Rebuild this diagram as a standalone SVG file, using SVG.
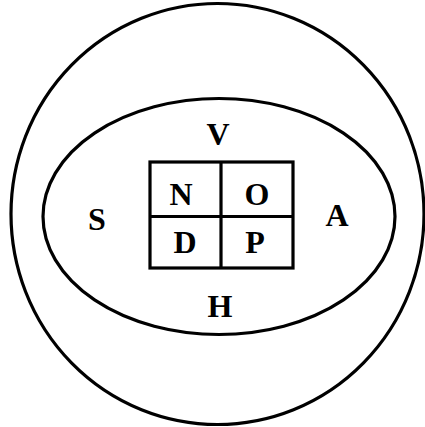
<svg xmlns="http://www.w3.org/2000/svg" width="425" height="427" viewBox="0 0 425 427">
<style>
.ln{fill:none;stroke:#000;stroke-width:3.2}
.t{font-family:"Liberation Serif","Times New Roman",serif;font-weight:bold;font-size:32px;text-anchor:middle;fill:#000}
</style>
<rect width="425" height="427" fill="#fff"/>
<g id="outer"><ellipse class="ln" cx="217.5" cy="214" rx="206.5" ry="210.5"/></g>
<g id="inner"><ellipse class="ln" cx="219" cy="216.5" rx="176" ry="118"/></g>
<g id="grid">
<rect class="ln" x="150" y="162" width="143" height="106" stroke-width="3.6"/>
<line class="ln" x1="221" y1="162" x2="221" y2="268"/>
<line class="ln" x1="150" y1="216.5" x2="293" y2="216.5"/>
</g>
<g id="labels">
<text class="t" x="218" y="145">V</text>
<text class="t" x="97" y="230">S</text>
<text class="t" x="337" y="226">A</text>
<text class="t" x="220" y="317">H</text>
<text class="t" x="181" y="205">N</text>
<text class="t" x="257" y="205">O</text>
<text class="t" x="185" y="253">D</text>
<text class="t" x="255" y="253">P</text>
</g>
</svg>
